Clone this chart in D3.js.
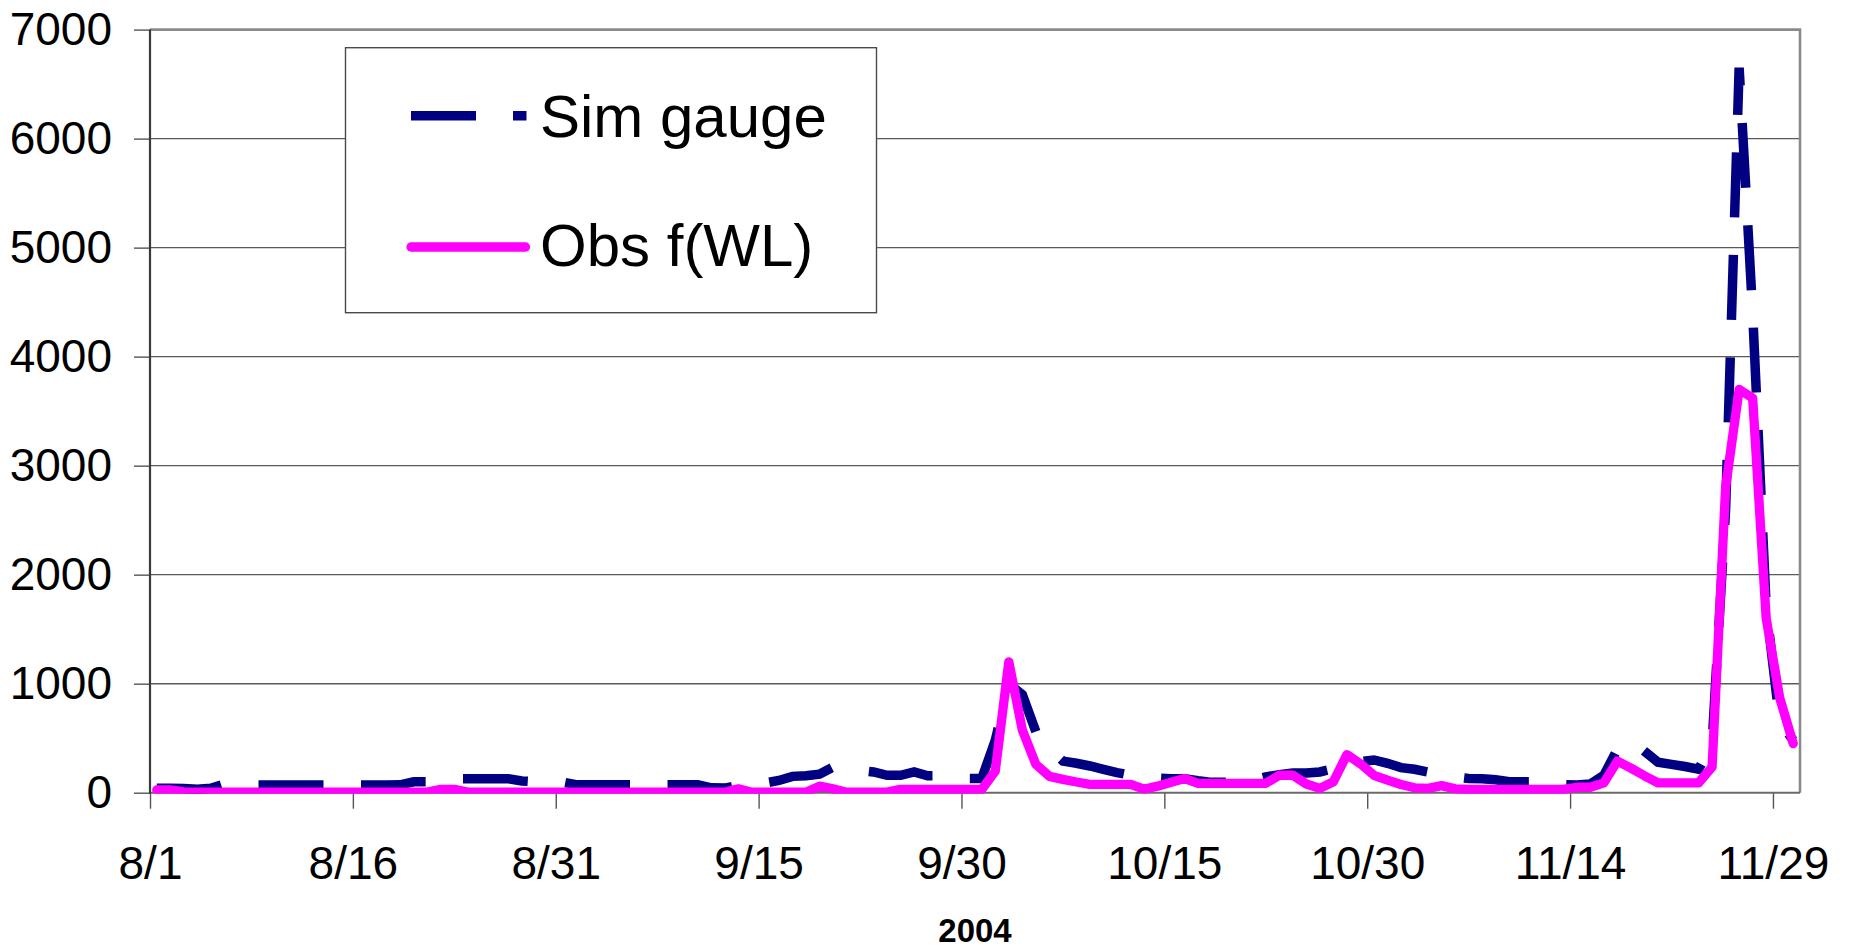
<!DOCTYPE html>
<html>
<head>
<meta charset="utf-8">
<script src="https://cdn.jsdelivr.net/npm/d3@7"></script>
<style>
  html, body { margin: 0; padding: 0; background: #ffffff; }
  svg { display: block; font-family: "Liberation Sans", Arial, sans-serif; }
</style>
</head>
<body>
<svg id="chart" width="1855" height="950"></svg>
<script>
// Daily flows, 1 Aug 2004 through 30 Nov 2004 (one value per day)
const startDate = "2004-08-01";

const simGauge = [
  40, 40, 38, 32, 40, 80, 72, 71, 71, 71,
  71, 71, 71, 71, 71, 71, 71, 71, 72, 100,
  100, 118, 128, 128, 128, 128, 128, 108, 100, 100,
  98, 74, 74, 74, 74, 74, 74, 74, 74, 74,
  74, 45, 42, 65, 80, 90, 112, 150, 155, 170,
  235, 220, 205, 190, 160, 160, 190, 155, 155, 150,
  130, 130, 480, 1000, 900, 560, 400, 290, 270, 245,
  215, 185, 160, 145, 135, 128, 128, 110, 95, 95,
  95, 115, 145, 165, 180, 180, 190, 220, 255, 285,
  300, 270, 230, 215, 190, 165, 145, 130, 128, 118,
  100, 100, 100, 90, 75, 70, 80, 160, 400, 480,
  380, 280, 260, 240, 215, 450, 2600, 6650, 4400, 1700,
  650, 480
];

const obsWL = [
  25, 25, 8, 5, 5, 5, 5, 5, 5, 5,
  5, 5, 5, 5, 5, 5, 5, 5, 5, 5,
  5, 30, 30, 5, 5, 5, 5, 5, 5, 5,
  5, 5, 5, 5, 5, 5, 5, 5, 5, 5,
  5, 5, 5, 35, 5, 5, 5, 5, 5, 60,
  35, 5, 5, 5, 5, 30, 30, 30, 30, 30,
  30, 30, 200, 1200, 575, 260, 150, 122, 98, 77,
  77, 77, 77, 32, 60, 95, 130, 86, 86, 86,
  86, 86, 86, 160, 160, 80, 40, 100, 350, 265,
  160, 115, 75, 45, 40, 65, 35, 30, 30, 30,
  30, 30, 30, 30, 30, 50, 50, 90, 290, 225,
  155, 90, 90, 90, 90, 235, 2800, 3700, 3620, 1600,
  870, 450
];

const yTicks = [0, 1000, 2000, 3000, 4000, 5000, 6000, 7000];
const xTickLabels = ["8/1", "8/16", "8/31", "9/15", "9/30", "10/15", "10/30", "11/14", "11/29"];
const seriesNames = ["Sim gauge", "Obs f(WL)"];
const xTitle = "2004";

const svg = d3.select("#chart");
const plot = { left: 150, right: 1800, top: 29.6, bottom: 792.7 };

const t0 = d3.utcParse("%Y-%m-%d")(startDate);
const tEnd = d3.utcDay.offset(t0, simGauge.length);
const days = d3.utcDay.range(t0, tEnd);
// each daily value sits in the middle of its day
const mid = d => d3.utcHour.offset(d, 12);

const x = d3.scaleUtc().domain([t0, tEnd]).range([plot.left, plot.right]);
const y = d3.scaleLinear().domain([0, 7000]).range([plot.bottom, plot.top]);

const parseTick = d3.utcParse("%m/%d/%Y");
const xTickDates = xTickLabels.map(s => parseTick(s + "/" + xTitle));

// plot area background
svg.append("rect")
  .attr("x", plot.left).attr("y", plot.top)
  .attr("width", plot.right - plot.left).attr("height", plot.bottom - plot.top)
  .attr("fill", "#ffffff");

// horizontal gridlines
svg.append("g")
  .selectAll("line")
  .data(yTicks.filter(v => v > 0 && v < 7000))
  .join("line")
  .attr("x1", plot.left).attr("x2", plot.right)
  .attr("y1", d => y(d)).attr("y2", d => y(d))
  .attr("stroke", "#5a5a5a").attr("stroke-width", 1.4);

// plot frame (top and right edges in grey)
svg.append("path")
  .attr("d", `M${plot.left},${plot.top}H${plot.right}V${plot.bottom}`)
  .attr("fill", "none").attr("stroke", "#8a8a8a").attr("stroke-width", 2.6);

// y axis
const yAxis = svg.append("g")
  .attr("transform", `translate(${plot.left},0)`)
  .call(d3.axisLeft(y).tickValues(yTicks).tickFormat(d3.format("d")).tickSize(16).tickPadding(22));
yAxis.select(".domain").remove();
yAxis.selectAll(".tick line").attr("stroke", "#555").attr("stroke-width", 1.4);
yAxis.selectAll(".tick text")
  .attr("fill", "#000").style("font-size", "46px")
  .style("font-family", '"Liberation Sans", Arial, sans-serif');

// x axis
const xAxis = svg.append("g")
  .attr("transform", `translate(0,${plot.bottom})`)
  .call(d3.axisBottom(x).tickValues(xTickDates).tickFormat((d, i) => xTickLabels[i]).tickSize(16).tickPadding(38));
xAxis.select(".domain").remove();
xAxis.selectAll(".tick line").attr("stroke", "#555").attr("stroke-width", 1.4);
xAxis.selectAll(".tick text")
  .attr("fill", "#000").style("font-size", "46px")
  .style("font-family", '"Liberation Sans", Arial, sans-serif');

// axis lines
svg.append("line")
  .attr("x1", plot.left).attr("x2", plot.right)
  .attr("y1", plot.bottom).attr("y2", plot.bottom)
  .attr("stroke", "#6a6a6a").attr("stroke-width", 2);
svg.append("line")
  .attr("x1", plot.left).attr("x2", plot.left)
  .attr("y1", plot.top).attr("y2", plot.bottom + 1)
  .attr("stroke", "#3a3a3a").attr("stroke-width", 2.2);

// x axis title
svg.append("text")
  .attr("x", (plot.left + plot.right) / 2).attr("y", 942)
  .attr("text-anchor", "middle")
  .style("font-size", "33px").style("font-weight", "bold")
  .text(xTitle);

// series
svg.append("clipPath").attr("id", "plotClip")
  .append("rect")
  .attr("x", plot.left).attr("y", plot.top - 2)
  .attr("width", plot.right - plot.left).attr("height", plot.bottom - plot.top + 3);

const line = d3.line().x(d => x(mid(d.date))).y(d => y(d.v));
const simData = days.map((d, i) => ({ date: d, v: simGauge[i] }));
const obsData = days.map((d, i) => ({ date: d, v: obsWL[i] }));

const series = svg.append("g").attr("clip-path", "url(#plotClip)");
series.append("path")
  .datum(simData)
  .attr("d", line)
  .attr("fill", "none")
  .attr("stroke", "#000080").attr("stroke-width", 9.5)
  .attr("stroke-dasharray", "65,37.5")
  .attr("stroke-linecap", "butt").attr("stroke-linejoin", "miter");
series.append("path")
  .datum(obsData)
  .attr("d", line)
  .attr("fill", "none")
  .attr("stroke", "#ff00ff").attr("stroke-width", 9.3)
  .attr("stroke-linecap", "round").attr("stroke-linejoin", "round");

// legend
const legend = svg.append("g");
legend.append("rect")
  .attr("x", 345.5).attr("y", 47.7).attr("width", 531).attr("height", 265)
  .attr("fill", "#ffffff").attr("stroke", "#4a4a4a").attr("stroke-width", 1.4);
legend.append("line")
  .attr("x1", 411).attr("x2", 526.5).attr("y1", 115.8).attr("y2", 115.8)
  .attr("stroke", "#000080").attr("stroke-width", 9.5)
  .attr("stroke-dasharray", "65,37");
legend.append("line")
  .attr("x1", 411).attr("x2", 525.5).attr("y1", 247).attr("y2", 247)
  .attr("stroke", "#ff00ff").attr("stroke-width", 9.3)
  .attr("stroke-linecap", "round");
legend.selectAll("text.lg")
  .data(seriesNames)
  .join("text")
  .attr("class", "lg")
  .attr("x", 540)
  .attr("y", (d, i) => i === 0 ? 137.3 : 266)
  .style("font-size", "60px")
  .text(d => d);
</script>
</body>
</html>
